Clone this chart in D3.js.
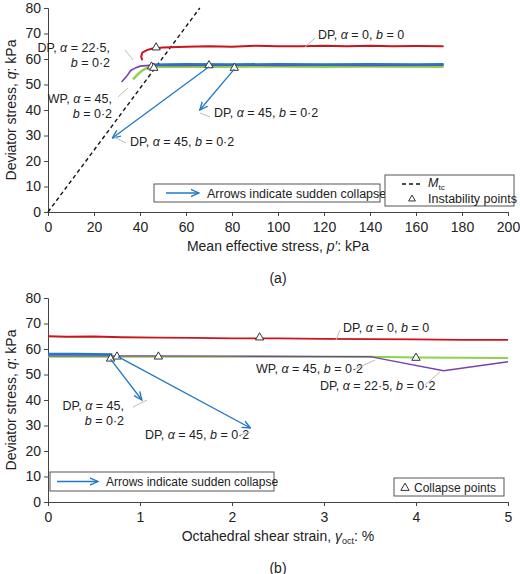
<!DOCTYPE html><html><head><meta charset="utf-8"><script src="https://cdn.jsdelivr.net/npm/d3@7"></script>
<style>body{margin:0;background:#fff}text{font-family:Arial,"Liberation Sans",sans-serif;fill:#222}</style></head><body><svg id="s" width="520" height="574"></svg><script>
// Panel (a) data: [p', q]
const aRed=[[41,59.5],[40.5,61],[41,62.5],[42,63],[43,63.5],[45,64],[50,64.5],[60,64.8],[70,65],[80,64.8],[90,65.2],[100,65],[110,65],[120,65.2],[130,65],[140,65.2],[150,65],[160,65.1],[172,65]];
const aPurple=[[32,51],[34,53],[36,55.5],[38,56.5],[40,57.2],[44,57.5],[50,57.6],[60,57.5],[80,57.6],[100,57.5],[120,57.6],[140,57.5],[172,57.6]];
const aGreen=[[37,52],[39,54],[41,55.5],[43,56.5],[45,57],[60,57],[80,57],[100,57.1],[120,57],[140,57.1],[172,57]];
const aBlue=[[45,57.8],[60,58],[80,57.9],[100,58],[120,57.9],[140,58],[160,57.9],[172,58]];
const aMtc=[[0,0],[66,80]];
const aTri=[[47,64.5],[45,57],[46,56.5],[70,57.5],[81,56.5]];
const aArrows=[[[70,57],[28,29]],[[81,56],[66,40]]];
// Panel (b) data: [gamma_oct, q]
const bRed=[[0,65],[0.2,64.8],[0.5,64.9],[0.8,64.6],[1.2,64.5],[1.6,64.4],[2,64.2],[2.5,64.2],[3,64],[3.5,63.9],[4,63.8],[4.5,63.6],[5,63.6]];
const bBlue=[[0,58],[0.3,58],[0.7,57.8]];
const bGreen=[[0,57],[0.5,57],[1,57],[2,57],[3,56.9],[3.5,57],[4,56.7],[4.5,56.6],[5,56.5]];
const bPurple=[[0,57.3],[1,57.3],[2,57.2],[3,57.1],[3.5,57],[4.3,51.5],[5,55]];
const bTri=[[0.68,56.2],[0.75,57],[1.2,57],[2.3,64.5],[4,56.5]];
const bArrows=[[[0.68,56],[1.02,40]],[[0.76,57],[2.2,29]]];

const svg=d3.select("#s");
svg.append("defs").append("marker").attr("id","ah").attr("viewBox","0 0 10 10").attr("refX",9).attr("refY",5)
 .attr("markerWidth",7).attr("markerHeight",7).attr("orient","auto").append("path").attr("d","M0,1L9,5L0,9").attr("fill","none").attr("stroke","#1f78c8").attr("stroke-width",1.5);

function panel(top,xmax,xticks,xlabel,sub){
  const x=d3.scaleLinear().domain([0,xmax]).range([48,508]);
  const y=d3.scaleLinear().domain([0,80]).range([top+204,top]);
  const g=svg.append("g");
  g.append("g").attr("transform",`translate(0,${top+204})`).call(d3.axisBottom(x).tickValues(xticks).tickSize(4).tickFormat(d=>d))
   .call(a=>a.selectAll("text").attr("font-size",14).attr("dy","0.9em"));
  g.append("g").attr("transform","translate(48,0)").call(d3.axisLeft(y).ticks(8).tickSize(4))
   .call(a=>a.selectAll("text").attr("font-size",14));
  g.selectAll(".domain,.tick line").attr("stroke","#444");
  g.append("text").attr("x",278).attr("y",top+243).attr("text-anchor","middle").attr("font-size",14).html(xlabel);
  g.append("text").attr("transform",`translate(16,${top+102}) rotate(-90)`).attr("text-anchor","middle").attr("font-size",14).html('Deviator stress, <tspan font-style="italic">q</tspan>: kPa');
  g.append("text").attr("x",278).attr("y",top+275).attr("text-anchor","middle").attr("font-size",14).text(sub);
  return {x,y,g};
}
const line=(P,d,c,w,dash)=>P.g.append("path").datum(d).attr("d",d3.line().x(v=>P.x(v[0])).y(v=>P.y(v[1]))).attr("fill","none").attr("stroke",c).attr("stroke-width",w).attr("stroke-dasharray",dash||null);
const tris=(P,d)=>P.g.selectAll(null).data(d).join("path").attr("transform",v=>`translate(${P.x(v[0])},${P.y(v[1])})`).attr("d",d3.symbol(d3.symbolTriangle,30)).attr("fill","#fff").attr("stroke","#333");
const arrows=(P,d)=>P.g.selectAll(null).data(d).join("line").attr("x1",v=>P.x(v[0][0])).attr("y1",v=>P.y(v[0][1])).attr("x2",v=>P.x(v[1][0])).attr("y2",v=>P.y(v[1][1])).attr("stroke","#1f78c8").attr("stroke-width",1.3).attr("marker-end","url(#ah)");
function label(P,x,y,lines,anchor,lead){
  const t=P.g.append("text").attr("font-size",12.5).attr("text-anchor",anchor||"start");
  lines.forEach((l,i)=>t.append("tspan").attr("x",x).attr("y",y+i*15).html(l));
  if(lead) P.g.append("path").attr("d",lead).attr("fill","none").attr("stroke","#bbb");
}
const al='<tspan font-style="italic">α</tspan>',bi='<tspan font-style="italic">b</tspan>';

const A=panel(8,200,d3.range(0,201,20),'Mean effective stress, <tspan font-style="italic">p′</tspan>: kPa','(a)');
line(A,aMtc,"#111",1.4,"4,3");
line(A,aGreen,"#8ed24a",2.5);line(A,aPurple,"#7b3fb5",1.6);line(A,aBlue,"#1f78c8",2.2);line(A,aRed,"#c8161d",2);
tris(A,aTri);arrows(A,aArrows);
label(A,318,39,['DP, '+al+' = 0, '+bi+' = 0'],"start","M305,47 L315,38");
label(A,110,52,['DP, '+al+' = 22·5,',bi+' = 0·2'],"end","M125,50 L133,60");
label(A,112,103,['WP, '+al+' = 45,',bi+' = 0·2'],"end","M118,97 L128,88");
label(A,214,117,['DP, '+al+' = 45, '+bi+' = 0·2'],"start","M200,113 L210,117");
label(A,130,146,['DP, '+al+' = 45, '+bi+' = 0·2'],"start","M114,137 L126,143");
A.g.append("rect").attr("x",154).attr("y",184).attr("width",226).attr("height",18).attr("fill","#fff").attr("stroke","#555");
A.g.append("line").attr("x1",166).attr("x2",199).attr("y1",193).attr("y2",193).attr("stroke","#1f78c8").attr("stroke-width",1.3).attr("marker-end","url(#ah)");
A.g.append("text").attr("x",207).attr("y",197.5).attr("font-size",12.5).text("Arrows indicate sudden collapse");
A.g.append("rect").attr("x",385).attr("y",175).attr("width",129).attr("height",31).attr("fill","#fff").attr("stroke","#555");
A.g.append("line").attr("x1",402).attr("x2",422).attr("y1",184).attr("y2",184).attr("stroke","#111").attr("stroke-width",1.4).attr("stroke-dasharray","4,3");
A.g.append("text").attr("x",428).attr("y",187).attr("font-size",12.5).html('<tspan font-style="italic">M</tspan><tspan font-size="8" dy="3">tc</tspan>');
A.g.append("path").attr("transform","translate(412,199)").attr("d",d3.symbol(d3.symbolTriangle,20)).attr("fill","#fff").attr("stroke","#333");
A.g.append("text").attr("x",428).attr("y",203).attr("font-size",12.5).text("Instability points");

const B=panel(298,5,d3.range(0,6),'Octahedral shear strain, <tspan font-style="italic">γ</tspan><tspan font-size="9" dy="3">oct</tspan><tspan dy="-3">: %</tspan>','(b)');
line(B,bGreen,"#8ed24a",2);line(B,bPurple,"#7b3fb5",1.4);line(B,bBlue,"#1f78c8",2.5);line(B,bRed,"#c8161d",1.8);
tris(B,bTri);arrows(B,bArrows);
label(B,343,332,['DP, '+al+' = 0, '+bi+' = 0'],"start","M336,340 L340,330");
label(B,256,373,['WP, '+al+' = 45, '+bi+' = 0·2'],"start","M355,369 L375,360");
label(B,320,390,['DP, '+al+' = 22·5, '+bi+' = 0·2'],"start","M425,385 L440,372");
label(B,124,410,['DP, '+al+' = 45,',bi+' = 0·2'],"end","M133,407 L147,400");
label(B,145,439,['DP, '+al+' = 45, '+bi+' = 0·2'],"start","M240,435 L250,432");
B.g.append("rect").attr("x",50).attr("y",472).attr("width",224).attr("height",19).attr("fill","#fff").attr("stroke","#555");
B.g.append("line").attr("x1",57).attr("x2",98).attr("y1",481.5).attr("y2",481.5).attr("stroke","#1f78c8").attr("stroke-width",1.3).attr("marker-end","url(#ah)");
B.g.append("text").attr("x",106).attr("y",486).attr("font-size",12).text("Arrows indicate sudden collapse");
B.g.append("rect").attr("x",394).attr("y",478).attr("width",110).attr("height",18).attr("fill","#fff").attr("stroke","#555");
B.g.append("path").attr("transform","translate(405,488)").attr("d",d3.symbol(d3.symbolTriangle,30)).attr("fill","#fff").attr("stroke","#333");
B.g.append("text").attr("x",414).attr("y",492).attr("font-size",12).text("Collapse points");
</script></body></html>
